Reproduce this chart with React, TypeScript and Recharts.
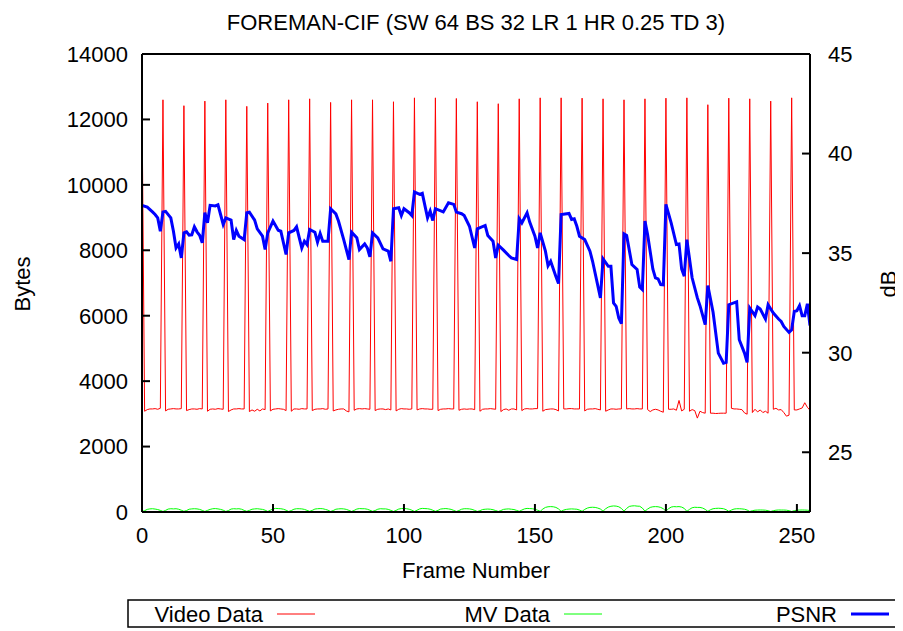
import React from "react";
import { LineChart, Line, XAxis, YAxis } from "recharts";

// one row per GOP: I-frame first, then 7 P-frames
const videoBytes: number[] = [
  12500, 3080, 3130, 3150, 3150, 3160, 3140, 3170,
  12600, 3090, 3140, 3150, 3160, 3150, 3150, 3160,
  12420, 3100, 3130, 3150, 3150, 3140, 3160, 3150,
  12560, 3080, 3140, 3150, 3140, 3160, 3150, 3140,
  12600, 3070, 3120, 3150, 3150, 3160, 3150, 3150,
  12400, 3070, 3120, 3080, 3140, 3090, 3150, 3130,
  12500, 3090, 3140, 3150, 3160, 3150, 3140, 3100,
  12600, 3080, 3150, 3150, 3140, 3160, 3150, 3150,
  12630, 3100, 3140, 3150, 3150, 3160, 3140, 3150,
  12520, 3090, 3120, 3140, 3150, 3150, 3090, 3060,
  12600, 3110, 3150, 3160, 3150, 3160, 3150, 3140,
  12600, 3100, 3140, 3150, 3150, 3130, 3150, 3120,
  12540, 3090, 3140, 3160, 3150, 3150, 3140, 3150,
  12660, 3120, 3150, 3160, 3150, 3150, 3140, 3140,
  12660, 3100, 3140, 3150, 3150, 3160, 3150, 3150,
  12640, 3110, 3140, 3150, 3140, 3150, 3150, 3130,
  12540, 3080, 3140, 3150, 3150, 3160, 3150, 3140,
  12480, 3070, 3130, 3150, 3110, 3150, 3150, 3120,
  12630, 3100, 3150, 3160, 3150, 3150, 3160, 3160,
  12660, 3080, 3130, 3140, 3150, 3150, 3130, 3090,
  12660, 3150, 3150, 3160, 3160, 3150, 3150, 3150,
  12650, 3090, 3140, 3150, 3150, 3160, 3140, 3120,
  12630, 3080, 3120, 3150, 3150, 3140, 3150, 3150,
  12600, 3150, 3160, 3150, 3150, 3160, 3150, 3150,
  12630, 3130, 3070, 3120, 3140, 3120, 3080, 3050,
  12650, 3140, 3140, 3150, 3110, 3410, 3090, 3140,
  12660, 3080, 3130, 3100, 2870, 3080, 3040, 3020,
  12450, 3020, 3020, 3010, 3015, 3020, 3020, 3020,
  12650, 3170, 3150, 3150, 3140, 3130, 3030, 2990,
  12630, 3040, 3140, 3060, 3120, 3040, 3080, 3020,
  12560, 3140, 3170, 3120, 3130, 3040, 2930, 2960,
  12660, 3120, 3120, 3150, 3180, 3340, 3200, 3110,
];

const mvBytes: number[] = [
  15, 40, 80, 95, 100, 90, 75, 50,
  15, 50, 90, 100, 95, 100, 85, 55,
  20, 45, 85, 95, 100, 95, 80, 50,
  15, 50, 80, 100, 105, 95, 80, 55,
  15, 45, 90, 100, 95, 100, 85, 50,
  20, 50, 85, 95, 100, 90, 80, 55,
  15, 55, 95, 110, 105, 100, 85, 55,
  15, 45, 85, 100, 100, 95, 80, 50,
  20, 50, 90, 100, 105, 100, 80, 55,
  15, 45, 85, 95, 100, 95, 80, 50,
  15, 50, 90, 105, 100, 100, 85, 55,
  20, 45, 85, 100, 95, 95, 80, 50,
  15, 50, 90, 105, 110, 100, 85, 55,
  15, 55, 95, 110, 105, 100, 85, 55,
  20, 50, 90, 100, 105, 95, 80, 50,
  15, 45, 85, 100, 100, 95, 80, 50,
  15, 40, 75, 85, 90, 85, 70, 45,
  15, 45, 80, 90, 95, 85, 75, 50,
  20, 60, 95, 110, 105, 100, 85, 55,
  20, 90, 140, 160, 165, 160, 140, 95,
  20, 60, 80, 90, 95, 90, 85, 60,
  20, 80, 120, 140, 145, 140, 120, 90,
  25, 100, 150, 175, 185, 180, 160, 110,
  25, 110, 170, 185, 190, 180, 175, 120,
  25, 90, 140, 160, 165, 160, 140, 100,
  25, 100, 150, 165, 160, 165, 150, 110,
  20, 80, 130, 145, 140, 140, 120, 80,
  20, 70, 100, 110, 115, 110, 100, 70,
  20, 60, 90, 100, 100, 95, 85, 60,
  15, 40, 55, 60, 62, 60, 55, 40,
  15, 40, 55, 62, 60, 60, 55, 40,
  15, 40, 55, 60, 62, 60, 55, 45,
];

// [frame, dB]
const psnrPoints: [number, number][] = [
  [0, 37.4], [2, 37.31], [4, 37.07], [5, 36.94], [6, 36.77], [7, 36.1], [8, 37.07], [9, 37.1],
  [11, 36.77], [12, 36.1], [13, 35.26], [14, 35.46], [15, 34.76], [16, 36.02], [17, 36.07],
  [18, 35.9], [19, 35.92], [20, 36.32], [21, 36.07], [22, 35.9], [23, 35.52], [24, 37.03],
  [25, 36.52], [26, 37.4], [28, 37.37], [29, 37.43], [30, 36.94], [31, 36.44], [32, 36.77],
  [34, 36.66], [35, 35.68], [36, 36.14], [37, 35.85], [39, 35.68], [40, 37.03], [41, 37.06],
  [43, 36.66], [44, 36.22], [46, 35.85], [47, 35.18], [48, 36.02], [50, 36.61], [52, 36.15],
  [53, 36.1], [55, 34.93], [56, 36.02], [58, 36.14], [59, 36.32], [61, 35.26], [62, 35.6],
  [63, 35.43], [64, 36.19], [66, 36.05], [67, 35.55], [68, 35.99], [69, 35.6], [71, 35.6],
  [72, 37.23], [74, 36.97], [75, 36.61], [77, 35.68], [78, 35.18], [79, 34.68], [80, 36.05],
  [82, 35.77], [83, 35.18], [85, 35.46], [86, 35.26], [87, 34.81], [88, 36.02], [90, 35.77],
  [92, 35.21], [94, 35.1], [95, 34.59], [96, 37.23], [98, 37.28], [99, 36.89], [100, 37.23],
  [102, 37.03], [103, 36.89], [104, 38.07], [106, 37.95], [107, 38.0], [109, 36.77],
  [110, 37.11], [111, 36.64], [112, 37.23], [115, 37.07], [117, 37.53], [119, 37.45],
  [120, 37.06], [122, 36.98], [123, 36.89], [125, 36.35], [127, 35.26], [128, 36.22],
  [131, 36.39], [132, 35.89], [134, 35.6], [135, 34.76], [136, 35.4], [138, 35.15],
  [140, 34.88], [141, 34.76], [143, 34.68], [144, 36.73], [145, 36.52], [147, 37.03],
  [148, 36.56], [150, 35.85], [151, 35.26], [152, 36.02], [154, 35.1], [155, 34.37],
  [156, 34.59], [158, 33.83], [159, 33.47], [160, 36.94], [163, 36.99], [164, 36.69],
  [165, 36.72], [166, 36.35], [167, 35.85], [169, 35.68], [171, 35.1], [172, 34.59],
  [175, 32.75], [176, 34.71], [178, 34.34], [179, 34.34], [180, 32.5], [181, 32.33],
  [182, 31.74], [183, 31.46], [184, 35.97], [185, 35.89], [187, 34.43], [189, 34.18],
  [190, 33.3], [191, 33.17], [192, 36.61], [193, 35.94], [195, 34.21], [196, 33.76],
  [197, 33.71], [198, 33.42], [199, 33.41], [200, 37.45], [202, 36.52], [204, 35.43],
  [205, 35.46], [206, 34.21], [207, 33.84], [208, 35.68], [210, 33.76], [212, 32.75],
  [213, 32.36], [215, 31.41], [216, 33.37], [218, 32.03], [220, 29.98], [222, 29.47],
  [223, 29.51], [224, 32.41], [227, 32.55], [228, 30.65], [230, 29.98], [231, 29.51],
  [232, 32.24], [234, 31.86], [235, 32.29], [236, 32.19], [238, 31.69], [239, 32.41],
  [241, 31.99], [243, 31.69], [244, 31.57], [245, 31.32], [247, 31.02], [248, 31.15],
  [249, 32.07], [250, 32.11], [251, 32.36], [252, 31.86], [253, 31.86], [254, 32.46],
  [255, 31.36],
];

const frameTicks = [0, 50, 100, 150, 200, 250];
const byteTicks = [0, 2000, 4000, 6000, 8000, 10000, 12000, 14000];
const dbTicks = [25, 30, 35, 40, 45];

const frameData = videoBytes.map((v, i) => ({ frame: i, video: v, mv: mvBytes[i] }));
const psnrData = psnrPoints.map(([f, db]) => ({ frame: f, psnr: db }));

const FONT = "'Liberation Sans', Arial, Helvetica, sans-serif";
const tickStyle = { fill: "#000", fontSize: 22, fontFamily: FONT };
const axisLine = { stroke: "#000", strokeWidth: 2 };

const legendItems = [
  { label: "Video Data", color: "#ff0000", width: 1, textEnd: 255 },
  { label: "MV Data", color: "#00ff00", width: 1, textEnd: 542 },
  { label: "PSNR", color: "#0000ff", width: 3, textEnd: 829 },
];

export default function App() {
  return (
    <div style={{ position: "relative", width: 895, height: 623 }}>
      <LineChart
        width={895}
        height={623}
        data={frameData}
        margin={{ top: 45, right: 33, bottom: 79, left: 50 }}
      >
        <XAxis
          dataKey="frame"
          type="number"
          domain={[0, 255]}
          ticks={frameTicks}
          allowDataOverflow
          height={40}
          tick={tickStyle}
          tickSize={-8}
          tickMargin={23}
          axisLine={axisLine}
          tickLine={axisLine}
        />
        <XAxis
          xAxisId="top"
          dataKey="frame"
          type="number"
          orientation="top"
          domain={[0, 255]}
          ticks={frameTicks}
          height={1}
          tick={false}
          tickSize={-8}
          axisLine={axisLine}
          tickLine={axisLine}
        />
        <YAxis
          yAxisId="left"
          domain={[0, 14000]}
          ticks={byteTicks}
          width={84}
          tick={tickStyle}
          tickSize={-8}
          tickMargin={22}
          axisLine={axisLine}
          tickLine={axisLine}
        />
        <YAxis
          yAxisId="right"
          orientation="right"
          domain={[22, 45]}
          ticks={dbTicks}
          allowDataOverflow
          width={60}
          tick={{ ...tickStyle, textAnchor: "start" }}
          tickSize={-8}
          tickMargin={26}
          axisLine={axisLine}
          tickLine={axisLine}
        />
        <Line
          yAxisId="left"
          dataKey="video"
          type="linear"
          stroke="#ff0000"
          strokeWidth={1}
          dot={false}
          isAnimationActive={false}
        />
        <Line
          yAxisId="left"
          dataKey="mv"
          type="linear"
          stroke="#00ff00"
          strokeWidth={1}
          dot={false}
          isAnimationActive={false}
        />
        <Line
          yAxisId="right"
          data={psnrData}
          dataKey="psnr"
          type="linear"
          stroke="#0000ff"
          strokeWidth={3}
          dot={false}
          isAnimationActive={false}
        />
      </LineChart>

      {/* title, axis labels and the boxed key, in chart coordinates */}
      <svg
        width={895}
        height={623}
        style={{ position: "absolute", left: 0, top: 0, pointerEvents: "none" }}
        fontFamily={FONT}
        fontSize={22}
      >
        <text x={468} y={22} textAnchor="middle">
          FOREMAN-CIF (SW 64 BS 32 LR 1 HR 0.25 TD 3)
        </text>
        <text x={468} y={570} textAnchor="middle">
          Frame Number
        </text>
        <text x={22} y={276} textAnchor="middle" transform="rotate(-90 22 276)">
          Bytes
        </text>
        <text x={888} y={276} textAnchor="middle" transform="rotate(-90 888 276)">
          dB
        </text>
        <rect x={120} y={592} width={773} height={27} fill="none" stroke="#000" strokeWidth={1.5} />
        {legendItems.map((item) => (
          <g key={item.label}>
            <text x={item.textEnd} y={614} textAnchor="end">
              {item.label}
            </text>
            <line
              x1={item.textEnd + 14}
              x2={item.textEnd + 52}
              y1={606}
              y2={606}
              stroke={item.color}
              strokeWidth={item.width}
            />
          </g>
        ))}
      </svg>
    </div>
  );
}
